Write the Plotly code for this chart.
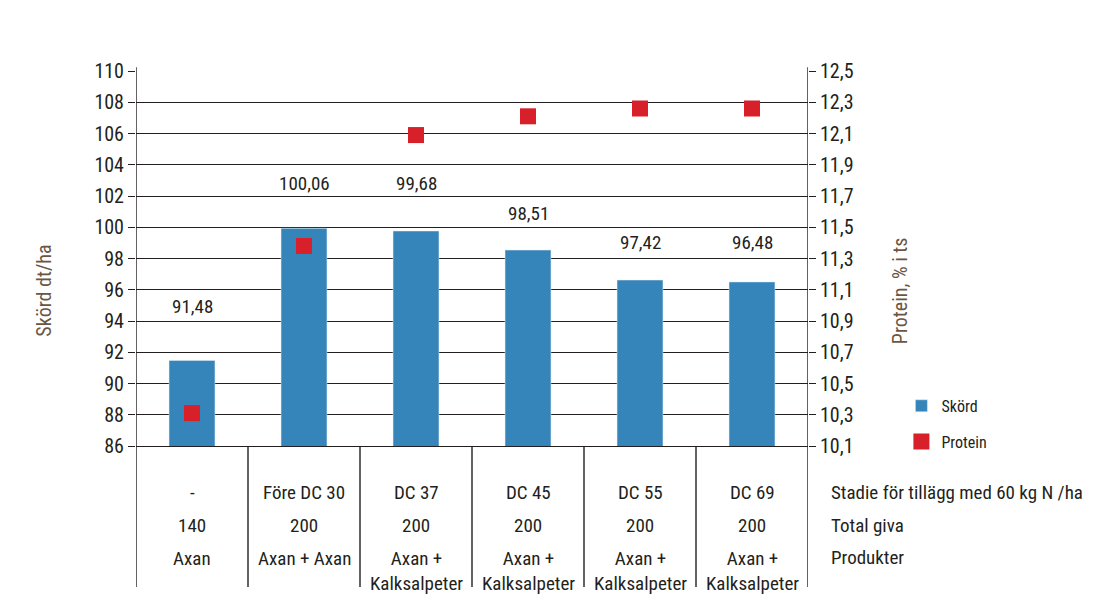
import plotly.graph_objects as go

# ---- data ----
stadie = ["-", "Före DC 30", "DC 37", "DC 45", "DC 55", "DC 69"]
total_giva = ["140", "200", "200", "200", "200", "200"]
produkter = ["Axan", "Axan + Axan", "Axan +<br>Kalksalpeter", "Axan +<br>Kalksalpeter",
             "Axan +<br>Kalksalpeter", "Axan +<br>Kalksalpeter"]
skord = [91.48, 99.93, 99.76, 98.54, 96.62, 96.5]          # bar heights as drawn
skord_labels = ["91,48", "100,06", "99,68", "98,51", "97,42", "96,48"]
label_y = [94.9, 102.8, 102.8, 100.9, 99.0, 99.0]
protein = [10.31, 11.38, 12.09, 12.21, 12.26, 12.26]
row_titles = ["Stadie för tillägg med 60 kg N /ha", "Total giva", "Produkter"]
left_ticks = list(range(86, 111, 2))
right_ticks = [round(10.1 + 0.2 * i, 1) for i in range(13)]

FONT = "Roboto Condensed, Liberation Sans Narrow, sans-serif"
TXT = "#231f20"
TITLE_C = "#6b5644"
FS = 19
x = list(range(len(stadie)))

fig = go.Figure()
fig.add_trace(go.Bar(x=x, y=skord, name="Skörd", marker_color="#3584ba",
                     width=0.41, legendgroup="a"))
fig.add_trace(go.Scatter(x=x, y=protein, name="Protein", mode="markers", yaxis="y2",
                         marker=dict(symbol="square", size=16, color="#d7202a"),
                         legendgroup="b"))

ann = []
for xi, t, yv in zip(x, skord_labels, label_y):
    ann.append(dict(x=xi, y=yv, text=t, showarrow=False, xref="x", yref="y",
                    font=dict(size=FS, color=TXT), yanchor="middle"))
for xi, a, b, c in zip(x, stadie, total_giva, produkter):
    ann.append(dict(x=xi, y=-0.1227, text=a, showarrow=False, xref="x", yref="paper",
                    font=dict(size=FS, color=TXT), yanchor="middle"))
    ann.append(dict(x=xi, y=-0.2107, text=b, showarrow=False, xref="x", yref="paper",
                    font=dict(size=FS, color=TXT), yanchor="middle"))
    ann.append(dict(x=xi, y=-0.264, text=c, showarrow=False, xref="x", yref="paper",
                    font=dict(size=FS, color=TXT), yanchor="top", valign="top"))
for t, py in zip(row_titles, [-0.1227, -0.2107, -0.296]):
    ann.append(dict(x=1.031, y=py, text=t, showarrow=False, xref="paper", yref="paper",
                    xanchor="left", yanchor="middle", font=dict(size=FS, color=TXT)))
ann.append(dict(x=-0.136, y=0.413, text="Skörd dt/ha", textangle=-90, showarrow=False,
                xref="paper", yref="paper", xanchor="center", yanchor="middle",
                font=dict(size=20, color=TITLE_C)))
ann.append(dict(x=1.137, y=0.413, text="Protein, % i ts", textangle=-90, showarrow=False,
                xref="paper", yref="paper", xanchor="center", yanchor="middle",
                font=dict(size=20, color=TITLE_C)))

shapes = []
for b in [-0.5, 5.5]:
    shapes.append(dict(type="line", xref="x", yref="paper", x0=b, x1=b, y0=-0.376, y1=1.01,
                       line=dict(color=TXT, width=1.4)))
for b in [0.5, 1.5, 2.5, 3.5, 4.5]:
    shapes.append(dict(type="line", xref="x", yref="paper", x0=b, x1=b, y0=-0.376, y1=0,
                       line=dict(color=TXT, width=1.4)))

fig.update_layout(
    width=1101, height=612,
    margin=dict(l=136, r=293, t=71, b=166),
    plot_bgcolor="white", paper_bgcolor="white",
    font=dict(family=FONT, color=TXT, size=FS),
    xaxis=dict(range=[-0.5, 5.5], showticklabels=False, ticks="", showgrid=False,
               zeroline=False, showline=True, linecolor=TXT, linewidth=1.4),
    yaxis=dict(range=[86, 110], tickvals=left_ticks, ticktext=[str(v) for v in left_ticks],
               ticks="outside", ticklen=7, tickcolor=TXT, tickwidth=1.4,
               showgrid=True, gridcolor=TXT, gridwidth=1.4, zeroline=False,
               showline=False, tickfont=dict(size=20, color=TXT)),
    yaxis2=dict(range=[10.1, 12.5], overlaying="y", side="right",
                tickvals=right_ticks, ticktext=[f"{v:.1f}".replace(".", ",") for v in right_ticks],
                ticks="outside", ticklen=7, tickcolor=TXT, tickwidth=1.4,
                showgrid=False, zeroline=False, showline=False,
                tickfont=dict(size=20, color=TXT)),
    showlegend=True,
    legend=dict(x=1.139, y=0.059, xanchor="left", yanchor="middle",
                font=dict(size=16, color=TXT), traceorder="grouped",
                tracegroupgap=12, bgcolor="rgba(0,0,0,0)"),
    annotations=ann, shapes=shapes,
)

fig.write_html("out.html", config={"displayModeBar": False},
               post_script="document.body.style.margin='0'")
